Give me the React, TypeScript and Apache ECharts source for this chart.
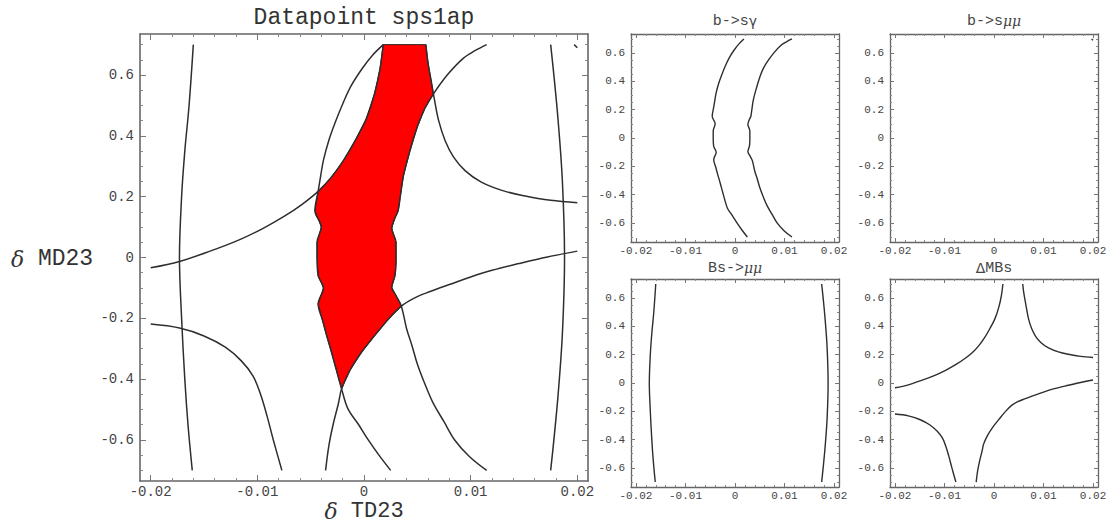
import React, { useEffect, useRef } from 'react';
import * as echarts from 'echarts';

type Pt = [number, number];

// ---- axis ranges and tick values ----
const xRange: Pt = [-0.021, 0.021];
const yRange: Pt = [-0.735, 0.735];
const xMajorTicks = [-0.02, -0.01, 0, 0.01, 0.02];
const xMinorTicks = [-0.018, -0.016, -0.014, -0.012, -0.008, -0.006, -0.004, -0.002, 0.002, 0.004, 0.006, 0.008, 0.012, 0.014, 0.016, 0.018];
const yMajorTicks = [-0.6, -0.4, -0.2, 0, 0.2, 0.4, 0.6];
const yMinorTicks = [-0.7, -0.65, -0.55, -0.5, -0.45, -0.35, -0.3, -0.25, -0.15, -0.1, -0.05, 0.05, 0.1, 0.15, 0.25, 0.3, 0.35, 0.45, 0.5, 0.55, 0.65, 0.7];

// ---- titles ----
const mainTitle = 'Datapoint sps1ap';
const xName = 'TD23';
const yName = 'MD23';
const panelTitles = ['b->s{u|γ}', 'b->s{i|μμ}', 'Bs->{i|μμ}', '{u|Δ}MBs'];

// ---- contour curves (x = δTD23, y = δMD23) ----
const bsmumuLeft: Pt[] = [
  [-0.0160, 0.70], [-0.0164, 0.50], [-0.0168, 0.35], [-0.0171, 0.20], [-0.0173, 0.0],
  [-0.0171, -0.20], [-0.0168, -0.40], [-0.0165, -0.55], [-0.0161, -0.70],
];
const bsmumuRight: Pt[] = [
  [0.0175, 0.70], [0.0178, 0.60], [0.0182, 0.45], [0.0186, 0.25], [0.0188, 0.0],
  [0.0186, -0.25], [0.0182, -0.45], [0.0178, -0.60], [0.0175, -0.70],
];
const bsmumuSpeck: Pt[] = [[0.0197, 0.700], [0.0200, 0.690]];

const bsgLeft: Pt[] = [
  [0.0018, 0.70], [0.0008, 0.665], [-0.0002, 0.62], [-0.0012, 0.565], [-0.0020, 0.505],
  [-0.0027, 0.444], [-0.0033, 0.385], [-0.0038, 0.32], [-0.0041, 0.26], [-0.0043, 0.2175],
  [-0.0046, 0.154], [-0.0040, 0.10], [-0.0044, 0.05], [-0.0044, 0.0],
  [-0.0043, -0.06], [-0.0038, -0.10], [-0.0043, -0.153], [-0.0039, -0.205], [-0.0035, -0.257],
  [-0.0031, -0.305], [-0.0027, -0.356], [-0.0021, -0.432], [-0.0015, -0.498], [-0.0005, -0.55],
  [0.0004, -0.60], [0.0014, -0.65], [0.0025, -0.70],
];
const bsgRight: Pt[] = [
  [0.0115, 0.70], [0.0104, 0.68], [0.0093, 0.655], [0.0078, 0.60], [0.0065, 0.5375],
  [0.0057, 0.49], [0.0050, 0.43], [0.0043, 0.35], [0.0037, 0.269], [0.0034, 0.20],
  [0.0032, 0.154], [0.0029, 0.13], [0.0026, 0.096],
  [0.0030, 0.05], [0.0030, -0.016], [0.0029, -0.06], [0.0026, -0.098], [0.0030, -0.125],
  [0.0035, -0.160], [0.0040, -0.235], [0.0045, -0.29], [0.0050, -0.35], [0.0057, -0.415],
  [0.0065, -0.48], [0.0075, -0.54], [0.0085, -0.60], [0.0099, -0.655], [0.0115, -0.70],
];

const dmbsUpperLeft: Pt[] = [
  [-0.0200, -0.034], [-0.0173, -0.013], [-0.0145, 0.020], [-0.0117, 0.058], [-0.0095, 0.095],
  [-0.0075, 0.135], [-0.0058, 0.175], [-0.0043, 0.2175], [-0.0031, 0.262], [-0.0020, 0.315],
  [-0.0009, 0.38], [0.0002, 0.455], [0.0010, 0.54], [0.0015, 0.62], [0.0018, 0.70],
];
const dmbsUpperRight: Pt[] = [
  [0.0058, 0.70], [0.0060, 0.64], [0.0063, 0.58], [0.0066, 0.52], [0.0070, 0.45],
  [0.0076, 0.385], [0.0084, 0.33], [0.0095, 0.285], [0.0110, 0.248], [0.0130, 0.220],
  [0.0150, 0.203], [0.0175, 0.188], [0.0200, 0.180],
];
const dmbsLowerLeft: Pt[] = [
  [-0.0200, -0.219], [-0.0173, -0.232], [-0.0150, -0.258], [-0.0130, -0.295], [-0.0115, -0.34],
  [-0.0104, -0.39], [-0.0097, -0.45], [-0.0091, -0.52], [-0.0085, -0.60], [-0.0077, -0.70],
];
const dmbsLowerRight: Pt[] = [
  [-0.0036, -0.70], [-0.0033, -0.62], [-0.0029, -0.55], [-0.0024, -0.48], [-0.0021, -0.432],
  [-0.0013, -0.37], [-0.0002, -0.31], [0.0010, -0.257], [0.0022, -0.206], [0.0035, -0.160],
  [0.0048, -0.132], [0.0062, -0.112], [0.0080, -0.089], [0.0100, -0.064], [0.0120, -0.042],
  [0.0145, -0.020], [0.0172, 0.002], [0.0200, 0.021],
];

// ---- allowed (red) region ----
const allowedRegion: Pt[] = [
  [0.0018, 0.70], [0.0058, 0.70], [0.0060, 0.64], [0.0063, 0.58], [0.0065, 0.5375],
  [0.0057, 0.49], [0.0050, 0.43], [0.0043, 0.35], [0.0037, 0.269], [0.0034, 0.20],
  [0.0032, 0.154], [0.0029, 0.13], [0.0026, 0.096], [0.0030, 0.05], [0.0030, -0.016],
  [0.0029, -0.06], [0.0026, -0.098], [0.0030, -0.125], [0.0035, -0.160],
  [0.0022, -0.206], [0.0010, -0.257], [-0.0002, -0.31], [-0.0013, -0.37], [-0.0021, -0.432],
  [-0.0027, -0.356], [-0.0031, -0.305], [-0.0035, -0.257], [-0.0039, -0.205], [-0.0043, -0.153],
  [-0.0038, -0.10], [-0.0043, -0.06], [-0.0044, 0.0], [-0.0044, 0.05], [-0.0040, 0.10],
  [-0.0046, 0.154], [-0.0043, 0.2175],
  [-0.0031, 0.262], [-0.0020, 0.315], [-0.0009, 0.38], [0.0002, 0.455], [0.0010, 0.54],
  [0.0015, 0.62],
];

const FONT = 'Liberation Mono';

const grids = [
  { left: 140, top: 34, width: 448, height: 447 },
  { left: 631, top: 34, width: 208, height: 208 },
  { left: 890, top: 34, width: 208, height: 208 },
  { left: 631, top: 279, width: 208, height: 208 },
  { left: 890, top: 279, width: 208, height: 208 },
];

const fmt = (v: number) => {
  const r = Math.round(v * 1000) / 1000;
  return r === 0 ? '0' : String(r);
};

function buildAxes(g: number, dim: 'x' | 'y') {
  const big = g === 0;
  const range = dim === 'x' ? xRange : yRange;
  const majors = dim === 'x' ? xMajorTicks : yMajorTicks;
  const minors = dim === 'x' ? xMinorTicks : yMinorTicks;
  const positions = dim === 'x' ? ['bottom', 'top'] : ['left', 'right'];
  const out: any[] = [];
  positions.forEach((pos, pi) => {
    out.push({
      gridIndex: g, type: 'value', position: pos, min: range[0], max: range[1],
      axisLine: { show: true, onZero: false, lineStyle: { color: '#666', width: big ? 1.6 : 1.3 } },
      axisTick: { show: true, inside: true, length: big ? 6 : 4, customValues: majors, lineStyle: { color: '#777', width: 1 } },
      minorTick: { show: false },
      splitLine: { show: false },
      axisLabel: {
        show: pi === 0, customValues: majors, formatter: fmt,
        fontFamily: FONT, fontSize: big ? 14 : 11, color: '#444',
        margin: big ? (dim === 'x' ? 4 : 6) : (dim === 'x' ? 3 : 6),
      },
    });
    out.push({
      gridIndex: g, type: 'value', position: pos, offset: 0, min: range[0], max: range[1],
      axisLine: { show: false, onZero: false },
      axisTick: { show: true, inside: true, length: big ? 3 : 2, customValues: minors, lineStyle: { color: '#888', width: 1 } },
      minorTick: { show: false },
      splitLine: { show: false },
      axisLabel: { show: false },
    });
  });
  return out;
}

const lineSeries = (g: number, data: Pt[], name: string) => ({
  type: 'line', name, xAxisIndex: g * 4, yAxisIndex: g * 4, data,
  symbol: 'none', showSymbol: false, smooth: 0.35, silent: true, clip: true, z: 3,
  lineStyle: { color: '#2e2e2e', width: g === 0 ? 1.5 : 1.4 },
});

export default function App() {
  const ref = useRef<HTMLDivElement>(null);
  useEffect(() => {
    if (!ref.current) return;
    const chart = echarts.init(ref.current, undefined, { renderer: 'svg' });
    const xAxis: any[] = [];
    const yAxis: any[] = [];
    grids.forEach((_, g) => {
      xAxis.push(...buildAxes(g, 'x'));
      yAxis.push(...buildAxes(g, 'y'));
    });
    const series: any[] = [
      {
        type: 'custom', name: 'allowed', xAxisIndex: 0, yAxisIndex: 0, silent: true, z: 2,
        data: [allowedRegion[0]],
        renderItem: (params: any, api: any) => {
          if (params.dataIndex !== 0) return null;
          const pts = allowedRegion.map((p) => api.coord(p));
          return { type: 'polygon', shape: { points: pts, smooth: 0 }, style: { fill: '#ff0000', stroke: '#222', lineWidth: 1 } };
        },
      },
      lineSeries(0, bsmumuLeft, 'Bs->mumu'), lineSeries(0, bsmumuRight, 'Bs->mumu'),
      lineSeries(0, bsmumuSpeck, 'b->smumu'),
      lineSeries(0, bsgLeft, 'b->sgamma'), lineSeries(0, bsgRight, 'b->sgamma'),
      lineSeries(0, dmbsUpperLeft, 'dMBs'), lineSeries(0, dmbsUpperRight, 'dMBs'),
      lineSeries(0, dmbsLowerLeft, 'dMBs'), lineSeries(0, dmbsLowerRight, 'dMBs'),
      lineSeries(1, bsgLeft, 'b->sgamma'), lineSeries(1, bsgRight, 'b->sgamma'),
      lineSeries(2, bsmumuSpeck, 'b->smumu'),
      lineSeries(3, bsmumuLeft, 'Bs->mumu'), lineSeries(3, bsmumuRight, 'Bs->mumu'),
      lineSeries(4, dmbsUpperLeft, 'dMBs'), lineSeries(4, dmbsUpperRight, 'dMBs'),
      lineSeries(4, dmbsLowerLeft, 'dMBs'), lineSeries(4, dmbsLowerRight, 'dMBs'),
    ];
    const bigRich = {
      i: { fontFamily: 'DejaVu Serif', fontStyle: 'italic', fontSize: 22, fill: '#333' },
    };
    const smallRich = {
      i: { fontFamily: 'DejaVu Serif', fontStyle: 'italic', fontSize: 14, fill: '#444' },
      u: { fontFamily: 'DejaVu Sans', fontSize: 14, fill: '#444' },
    };
    const titlePos = [[735, 21], [994, 21], [735, 268], [994, 268]];
    const graphic: any[] = [
      { type: 'text', x: 364, y: 18, style: { text: mainTitle, fontFamily: FONT, fontSize: 23, fill: '#333', align: 'center', verticalAlign: 'middle' } },
      { type: 'text', x: 52, y: 259, style: { text: `{i|δ} ${yName}`, rich: bigRich, fontFamily: FONT, fontSize: 23, fill: '#333', align: 'center', verticalAlign: 'middle' } },
      { type: 'text', x: 364, y: 511, style: { text: `{i|δ} ${xName}`, rich: bigRich, fontFamily: FONT, fontSize: 22, fill: '#333', align: 'center', verticalAlign: 'middle' } },
      ...panelTitles.map((t, k) => ({
        type: 'text', x: titlePos[k][0], y: titlePos[k][1],
        style: { text: t, rich: smallRich, fontFamily: FONT, fontSize: 15, fill: '#444', align: 'center', verticalAlign: 'middle' },
      })),
    ];
    chart.setOption({
      animation: false,
      backgroundColor: '#ffffff',
      grid: grids.map((g) => ({ ...g, containLabel: false })),
      xAxis, yAxis, series, graphic,
    });
    return () => chart.dispose();
  }, []);
  return <div ref={ref} style={{ position: 'fixed', left: 0, top: 0, width: 1115, height: 523, background: '#fff' }} />;
}
